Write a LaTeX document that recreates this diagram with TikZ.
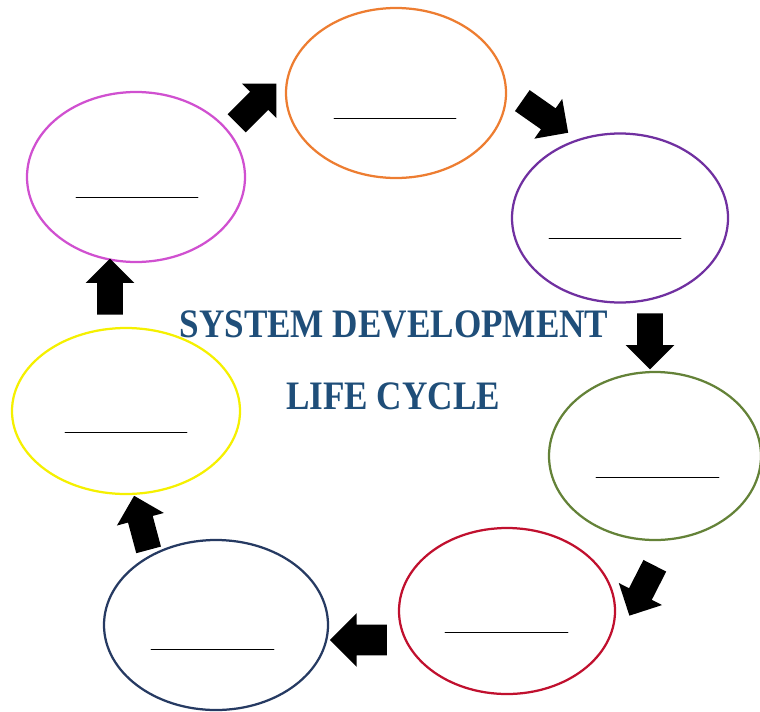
\documentclass[tikz,border=0pt]{standalone}
\usepackage{fontspec}
\setmainfont{Liberation Serif}
\usepackage{xcolor}
\usetikzlibrary{shapes.geometric,shapes.arrows,calc}

\definecolor{titleblue}{HTML}{1F4E79}
\definecolor{cOrange}{HTML}{ED7D31}
\definecolor{cPurple}{HTML}{7030A0}
\definecolor{cGreen}{HTML}{648238}
\definecolor{cRed}{HTML}{C0102E}
\definecolor{cNavy}{HTML}{263A62}
\definecolor{cYellow}{HTML}{F5F000}
\definecolor{cPink}{HTML}{D050D0}

\begin{document}
\begin{tikzpicture}[x=0.025cm, y=-0.025cm, line cap=round, line join=round,
  phase/.style={ellipse, draw=#1, line width=1.6pt, inner sep=0pt},
  blank/.style={line width=0.6pt},
  flow/.style={single arrow, fill=black, inner sep=0pt,
    inner ysep=12.5*0.025cm, minimum height=56*0.025cm,
    single arrow head extend=11.5*0.025cm},
  title/.style={text=titleblue, font=\fontsize{25}{30}\selectfont\bfseries,
    yscale=1.15, transform shape}]

\useasboundingbox (0,0) rectangle (760,711);

% stages of the cycle
\node[phase=cOrange, minimum width=220*0.025cm, minimum height=170*0.025cm] (stage1) at (396,93) {};
\node[phase=cPurple, minimum width=216*0.025cm, minimum height=169*0.025cm] (stage2) at (620,218) {};
\node[phase=cGreen, minimum width=212*0.025cm, minimum height=168*0.025cm] (stage3) at (655,456) {};
\node[phase=cRed, minimum width=216*0.025cm, minimum height=166*0.025cm] (stage4) at (507,611) {};
\node[phase=cNavy, minimum width=224*0.025cm, minimum height=170*0.025cm] (stage5) at (216,625) {};
\node[phase=cYellow, minimum width=228*0.025cm, minimum height=166*0.025cm] (stage6) at (126,411) {};
\node[phase=cPink, minimum width=218*0.025cm, minimum height=170*0.025cm] (stage7) at (136,177) {};

% blanks to fill in
\draw[blank] ($(stage1)+(-62,25)$) -- ++(122,0);
\draw[blank] ($(stage2)+(-71,20)$) -- ++(132,0);
\draw[blank] ($(stage3)+(-59,21)$) -- ++(123,0);
\draw[blank] ($(stage4)+(-62,21)$) -- ++(123,0);
\draw[blank] ($(stage5)+(-65,24)$) -- ++(123,0);
\draw[blank] ($(stage6)+(-61,21)$) -- ++(122,0);
\draw[blank] ($(stage7)+(-60,20)$) -- ++(122,0);

% arrows round the cycle
\node[flow, rotate=45] (go71) at (252,108) {};
\node[flow, rotate=-35] (go12) at (540,113) {};
\node[flow, rotate=-90] (go23) at (650,335) {};
\node[flow, rotate=-117] (go34) at (645,585) {};
\node[flow, rotate=180, inner ysep=15*0.025cm, minimum height=57*0.025cm] (go45) at (366,640) {};
\node[flow, rotate=105] (go56) at (143,529) {};
\node[flow, rotate=90] (go67) at (110,293) {};

% title
\node[title] (head1) at (394,324) {SYSTEM DEVELOPMENT};
\node[title] (head2) at (393,396) {LIFE CYCLE};

\end{tikzpicture}
\end{document}
